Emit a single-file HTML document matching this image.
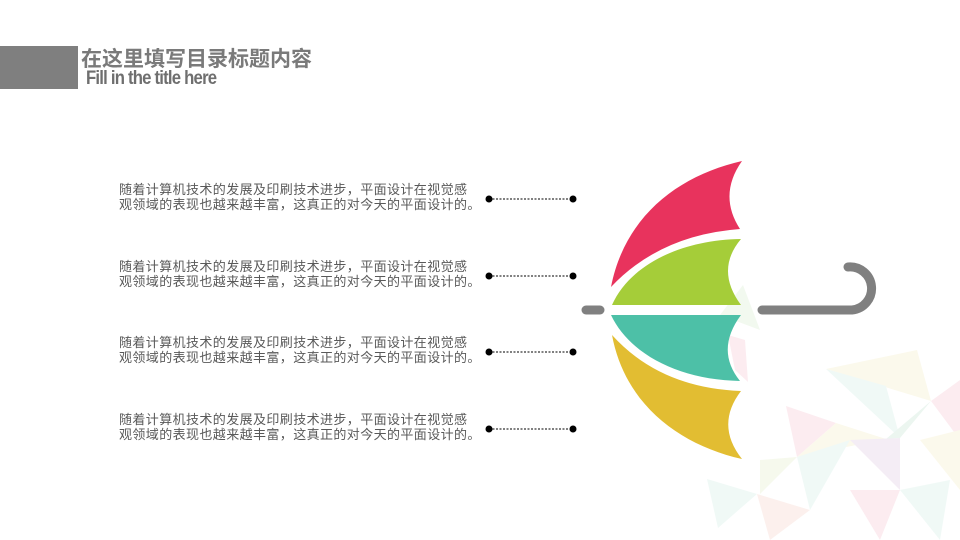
<!DOCTYPE html>
<html><head><meta charset="utf-8"><style>
html,body{margin:0;padding:0;background:#fff}
.w{position:relative;width:960px;height:540px;overflow:hidden;font-family:"Liberation Sans","Noto Sans CJK SC",sans-serif}
.t{position:absolute;left:119px;font-size:13px;line-height:15px;color:#595959;letter-spacing:0.4px;white-space:nowrap}
</style></head><body><div class="w">
<svg width="960" height="540" style="position:absolute;left:0;top:0">
<g opacity="0.75">
<polygon points="826,369 917,350 931,401" fill="#faf7e6"/>
<polygon points="826,369 886,386 900,438" fill="#ebf7f4"/>
<polygon points="786,406 836,423 797,457" fill="#fbe6ec"/>
<polygon points="836,423 886,439 797,457" fill="#faf7e6"/>
<polygon points="886,439 931,401 900,438" fill="#e6f3ec"/>
<polygon points="850,440 900,438 900,490" fill="#f1e8f2"/>
<polygon points="931,401 960,380 960,440" fill="#fbe6ec"/>
<polygon points="797,457 850,440 810,510" fill="#ebf7f4"/>
<polygon points="707,479 757,494 718,528" fill="#ebf7f4"/>
<polygon points="757,494 810,510 770,540" fill="#fbece8"/>
<polygon points="850,490 900,490 880,540" fill="#fbe6ec"/>
<polygon points="900,490 950,480 940,540" fill="#ebf7f4"/>
<polygon points="760,460 797,457 760,494" fill="#f3f7e8"/>
<polygon points="920,440 960,430 960,490" fill="#faf7e6"/>
<polygon points="743,285 760,330 720,315" fill="#eef7ea"/>
<polygon points="728,335 745,340 748,382 735,370" fill="#fbe6ec"/>
</g>
<line x1="586" y1="310" x2="600" y2="310" stroke="#808080" stroke-width="9" stroke-linecap="round"/>
<path d="M762,310 H852 A20,20 0 0 0 848,267" fill="none" stroke="#808080" stroke-width="9" stroke-linecap="round"/>
<path d="M742,161 C680,175 625,215 611,287 Q660,235 740,229 Q718,195 742,161Z" fill="#e8335d"/>
<path d="M741,239 C680,240 630,265 612,305 H741 Q715,270 741,239Z" fill="#a5cd39"/>
<path d="M611,315 H741 Q715,350 740,381 C680,380 630,355 611,315Z" fill="#4dc0a7"/>
<path d="M612,335 Q660,388 741,391 Q715,425 742,459 C680,445 625,405 612,335Z" fill="#e2bd32"/>
<g stroke="#000" stroke-width="1" stroke-dasharray="2,1.5">
<line x1="489" y1="199" x2="573" y2="199"/><line x1="489" y1="276" x2="573" y2="276"/>
<line x1="489" y1="352" x2="573" y2="352"/><line x1="489" y1="429" x2="573" y2="429"/>
</g>
<g fill="#000">
<circle cx="489" cy="199" r="3.5"/><circle cx="573" cy="199" r="3.5"/>
<circle cx="489" cy="276" r="3.5"/><circle cx="573" cy="276" r="3.5"/>
<circle cx="489" cy="352" r="3.5"/><circle cx="573" cy="352" r="3.5"/>
<circle cx="489" cy="429" r="3.5"/><circle cx="573" cy="429" r="3.5"/>
</g>
<rect x="0" y="46" width="78" height="43" fill="#7f7f7f"/>
</svg>
<div style="position:absolute;left:81px;top:43px;font-size:21px;font-weight:bold;color:#7a7a7a;white-space:nowrap">在这里填写目录标题内容</div>
<div style="position:absolute;left:86px;top:68px;font-size:19px;font-weight:bold;color:#6f6f6f;letter-spacing:-0.9px;white-space:nowrap;transform:scaleX(0.88);transform-origin:0 0">Fill in the title here</div>
<div class="t" style="top:182px">随着计算机技术的发展及印刷技术进步，平面设计在视觉感<br>观领域的表现也越来越丰富，这真正的对今天的平面设计的。</div>
<div class="t" style="top:259px">随着计算机技术的发展及印刷技术进步，平面设计在视觉感<br>观领域的表现也越来越丰富，这真正的对今天的平面设计的。</div>
<div class="t" style="top:335px">随着计算机技术的发展及印刷技术进步，平面设计在视觉感<br>观领域的表现也越来越丰富，这真正的对今天的平面设计的。</div>
<div class="t" style="top:412px">随着计算机技术的发展及印刷技术进步，平面设计在视觉感<br>观领域的表现也越来越丰富，这真正的对今天的平面设计的。</div>
</div></body></html>
